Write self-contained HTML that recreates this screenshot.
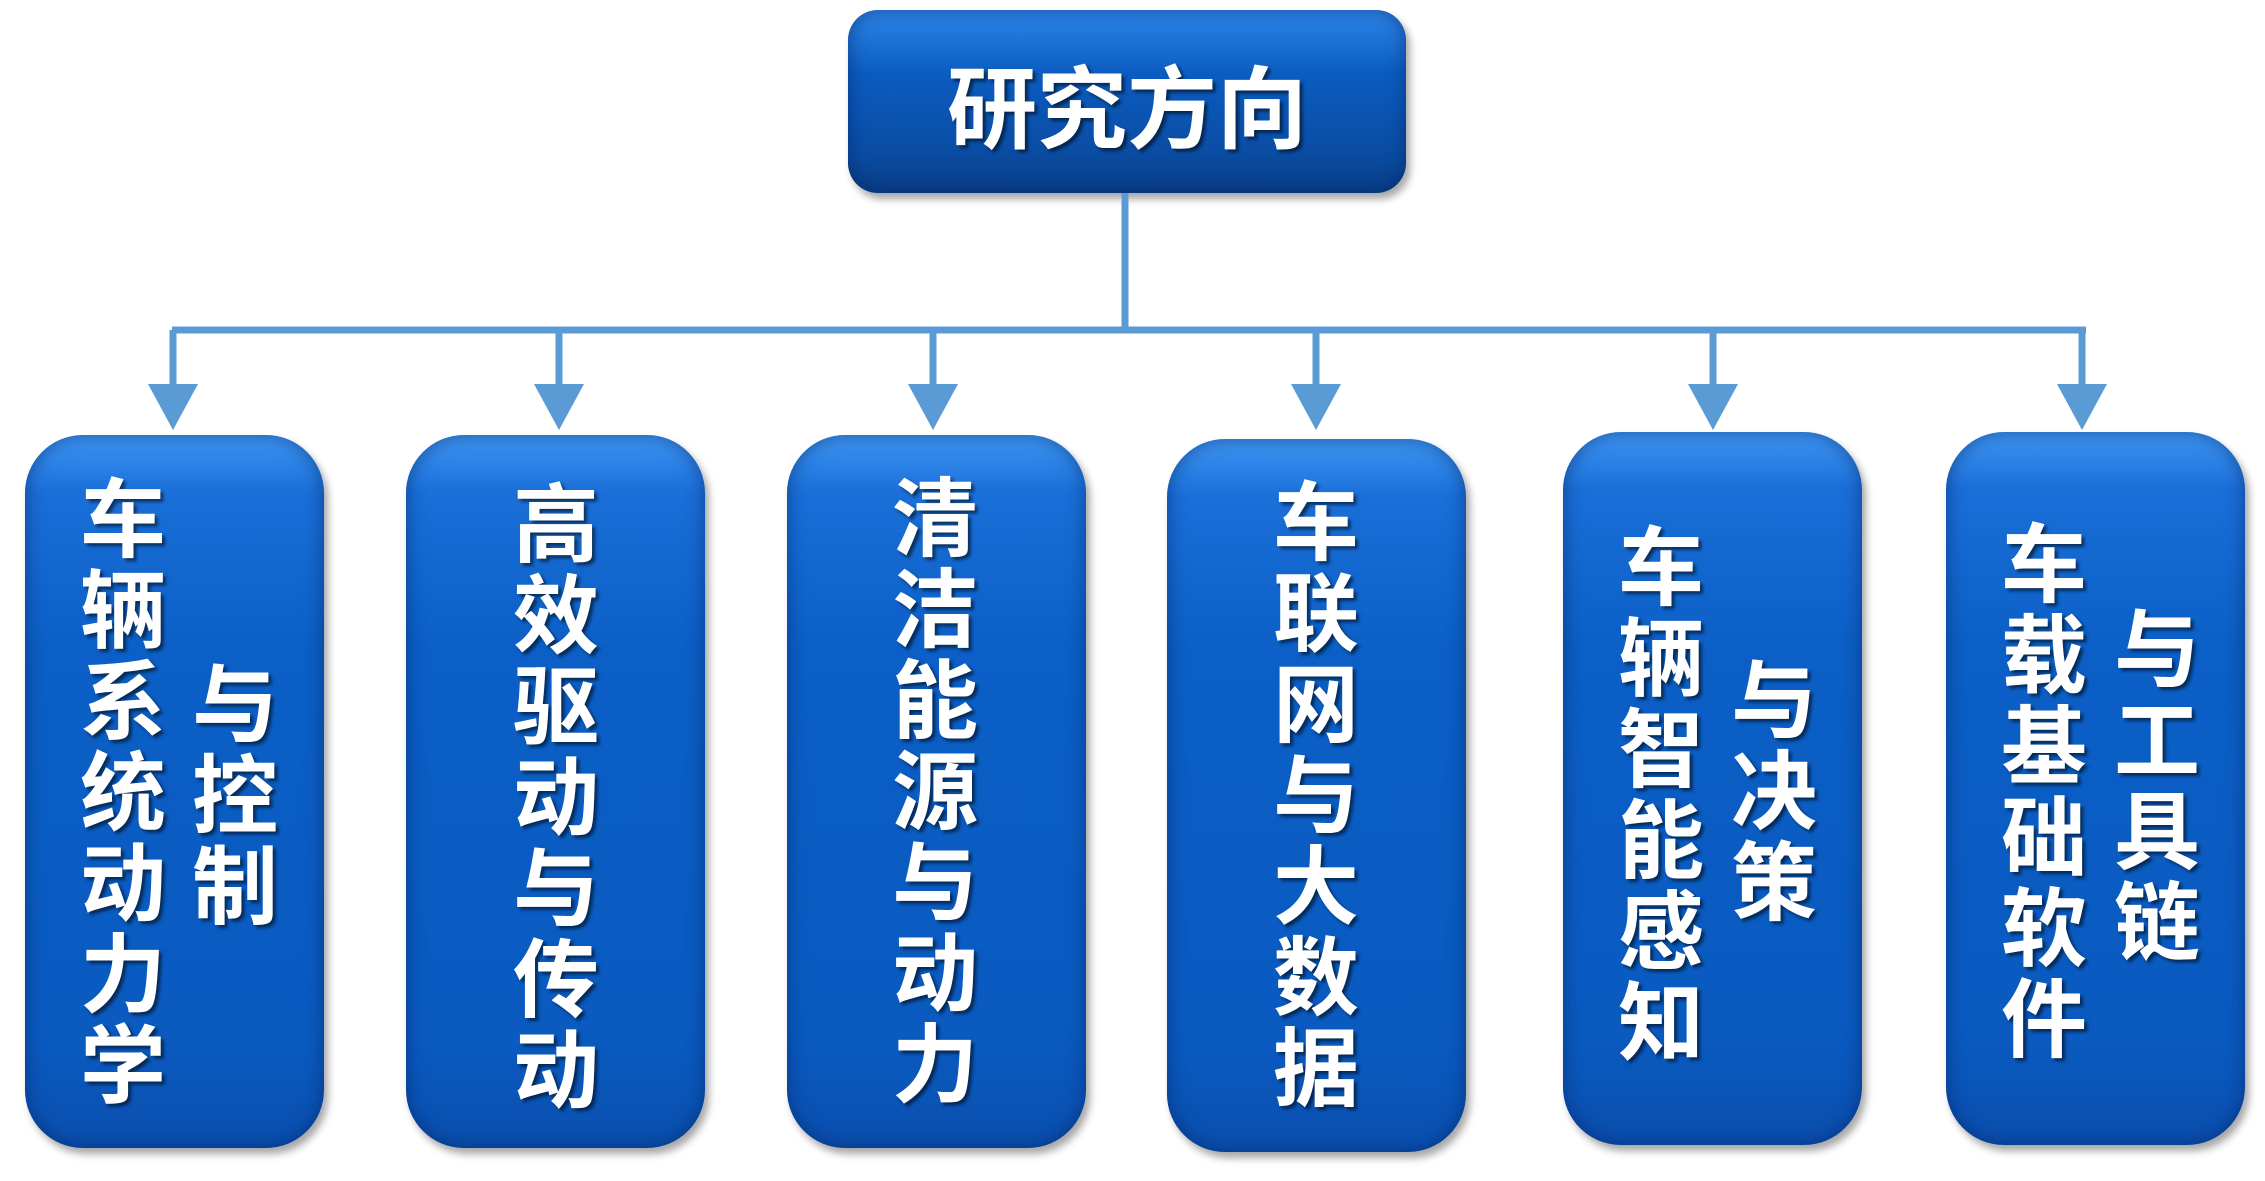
<!DOCTYPE html>
<html><head><meta charset="utf-8"><style>
body{margin:0;width:2265px;height:1181px;background:#fff;position:relative;overflow:hidden;font-family:"Liberation Sans","Noto Sans CJK SC",sans-serif}
.b{position:absolute;border-radius:58px;background:linear-gradient(180deg,#3f97f5 0%,#1a6fd8 8%,#0b5fc6 30%,#0a5ac0 85%,#0a4fae 100%);box-shadow:4px 6px 8px rgba(0,0,0,.35), inset 0 0 18px rgba(0,30,90,.55)}
.t{position:absolute;width:100px;color:#fff;font-weight:bold;font-size:86px;line-height:91px;text-align:center;text-shadow:3px 3px 3px rgba(0,0,0,.55);font-family:"Noto Sans CJK SC","WenQuanYi Zen Hei",sans-serif}
svg{position:absolute;left:0;top:0}
</style></head><body>
<div class="b" style="left:848px;top:10px;width:558px;height:183px;border-radius:30px;background:linear-gradient(180deg,#2e86ea 0%,#0b5cc0 35%,#0a4ea6 75%,#0a3f88 100%)"></div>
<div class="t" style="left:848px;width:558px;top:52px;font-size:90px;line-height:100px">研究方向</div>
<svg width="2265" height="1181">
<g stroke="#5b9bd5" stroke-width="7" fill="none">
<line x1="1125" y1="193" x2="1125" y2="330"/>
<line x1="172" y1="330" x2="2086" y2="330"/>
<line x1="173" y1="330" x2="173" y2="390"/>
<line x1="559" y1="330" x2="559" y2="390"/>
<line x1="933" y1="330" x2="933" y2="390"/>
<line x1="1316" y1="330" x2="1316" y2="390"/>
<line x1="1713" y1="330" x2="1713" y2="390"/>
<line x1="2082" y1="330" x2="2082" y2="390"/>
</g>
<g fill="#5b9bd5">
<polygon points="148,384 198,384 173,430"/>
<polygon points="534,384 584,384 559,430"/>
<polygon points="908,384 958,384 933,430"/>
<polygon points="1291,384 1341,384 1316,430"/>
<polygon points="1688,384 1738,384 1713,430"/>
<polygon points="2057,384 2107,384 2082,430"/>
</g>
</svg>
<div class="b" style="left:25px;top:435px;width:299px;height:713px"></div>
<div class="b" style="left:406px;top:435px;width:299px;height:713px"></div>
<div class="b" style="left:787px;top:435px;width:299px;height:713px"></div>
<div class="b" style="left:1167px;top:439px;width:299px;height:713px"></div>
<div class="b" style="left:1563px;top:432px;width:299px;height:713px"></div>
<div class="b" style="left:1946px;top:432px;width:299px;height:713px"></div>

<div class="t" style="left:73px;top:467px">车<br>辆<br>系<br>统<br>动<br>力<br>学</div>
<div class="t" style="left:185px;top:652px">与<br>控<br>制</div>
<div class="t" style="left:506px;top:472px">高<br>效<br>驱<br>动<br>与<br>传<br>动</div>
<div class="t" style="left:885px;top:466px">清<br>洁<br>能<br>源<br>与<br>动<br>力</div>
<div class="t" style="left:1266px;top:470px">车<br>联<br>网<br>与<br>大<br>数<br>据</div>
<div class="t" style="left:1611px;top:515px">车<br>辆<br>智<br>能<br>感<br>知</div>
<div class="t" style="left:1724px;top:648px">与<br>决<br>策</div>
<div class="t" style="left:1994px;top:512px">车<br>载<br>基<br>础<br>软<br>件</div>
<div class="t" style="left:2107px;top:597px">与<br>工<br>具<br>链</div>
</body></html>
